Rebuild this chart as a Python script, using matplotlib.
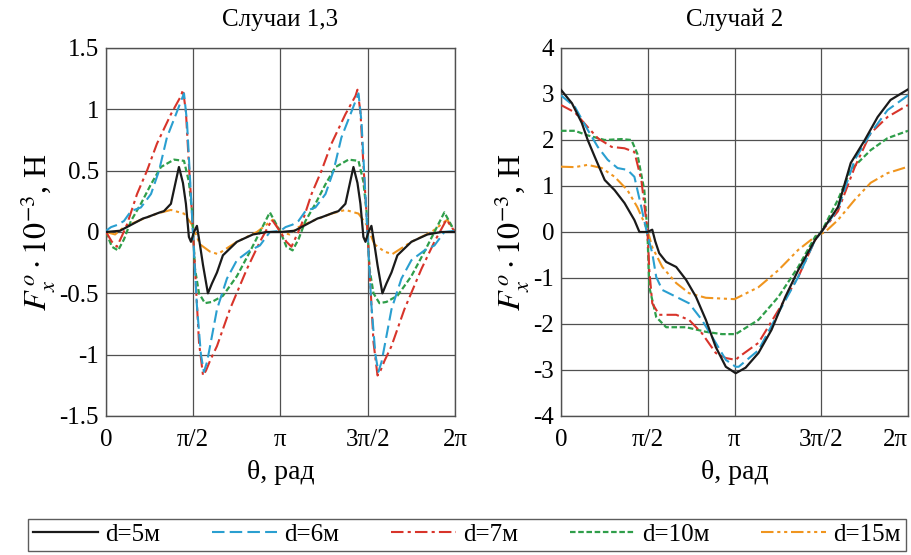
import numpy as np
import matplotlib
matplotlib.use("Agg")
import matplotlib.pyplot as plt

plt.rcParams['font.family'] = ['Liberation Serif', 'DejaVu Serif']
plt.rcParams['mathtext.fontset'] = 'stix'

# ---------------- data ----------------
labels = ["d=5м", "d=6м", "d=7м", "d=10м", "d=15м"]
colors = ["#1a1a1a", "#2a9fd0", "#d8342a", "#2f9e4a", "#f0951e"]
styles = ["-", (0, (6, 2.5)), (0, (6, 2, 1.5, 2)), (0, (2.5, 1.2)), (0, (6, 1.8, 1.5, 1.8, 1.5, 1.8))]
widths = [1.6, 1.5, 1.5, 1.6, 1.5]

# left panel (Случаи 1,3): one period 0..π, theta in units of π; repeats on π..2π
l_x5 = [0, 0.08, 0.212, 0.235, 0.309, 0.332, 0.372, 0.401, 0.418, 0.441, 0.458, 0.475, 0.487,
        0.504, 0.521, 0.538, 0.556, 0.584, 0.607, 0.636, 0.670, 0.750, 0.842, 0.922, 1.0]
l_y5 = [0.0, 0.01, 0.11, 0.12, 0.16, 0.17, 0.23, 0.42, 0.53, 0.40, 0.23, -0.04, -0.08,
        0.0, 0.05, -0.1, -0.27, -0.5, -0.42, -0.33, -0.19, -0.08, -0.02, 0.0, 0.0]

l_x6 = [0, 0.029, 0.069, 0.103, 0.143, 0.200, 0.258, 0.304, 0.349, 0.401, 0.447, 0.464, 0.481,
        0.498, 0.521, 0.544, 0.561, 0.579, 0.607, 0.636, 0.693, 0.750, 0.825, 0.882, 0.939, 1.0]
l_y6 = [0.01, 0.04, 0.06, 0.09, 0.17, 0.20, 0.31, 0.50, 0.77, 0.96, 1.13, 0.9, 0.45,
        0.0, -0.6, -1.0, -1.14, -1.06, -0.85, -0.63, -0.38, -0.23, -0.15, -0.11, 0.0, 0.01]

l_x7 = [0, 0.034, 0.063, 0.092, 0.120, 0.178, 0.235, 0.292, 0.372, 0.430, 0.441, 0.458, 0.475,
        0.493, 0.510, 0.533, 0.556, 0.573, 0.596, 0.636, 0.710, 0.808, 0.882, 0.951, 1.0]
l_y7 = [0.0, -0.08, -0.12, -0.03, 0.06, 0.31, 0.50, 0.72, 0.96, 1.11, 1.16, 0.98, 0.55,
        0.15, -0.3, -0.9, -1.17, -1.13, -1.05, -0.93, -0.63, -0.3, -0.08, 0.1, 0.0]

l_x10 = [0, 0.034, 0.069, 0.103, 0.143, 0.200, 0.258, 0.315, 0.390, 0.447, 0.475, 0.493, 0.510,
         0.533, 0.567, 0.607, 0.670, 0.750, 0.825, 0.882, 0.939, 1.0]
l_y10 = [0.0, -0.12, -0.15, -0.06, 0.09, 0.23, 0.39, 0.53, 0.59, 0.58, 0.41, 0.17, -0.3,
         -0.5, -0.58, -0.57, -0.52, -0.36, -0.16, 0.0, 0.16, 0.0]

l_x15 = [0, 0.052, 0.103, 0.200, 0.292, 0.372, 0.447, 0.493, 0.538, 0.596, 0.641, 0.750, 0.865, 0.956, 1.0]
l_y15 = [0.0, -0.02, 0.04, 0.10, 0.15, 0.18, 0.15, 0.06, -0.1, -0.16, -0.18, -0.08, 0.0, 0.10, 0.0]

# right panel (Случай 2): theta in units of π, 0..2π
r_x5 = [0, 0.063, 0.120, 0.154, 0.195, 0.252, 0.309, 0.366, 0.423, 0.452, 0.498, 0.526, 0.543,
        0.566, 0.606, 0.664, 0.721, 0.778, 0.835, 0.892, 0.950, 1.007, 1.064, 1.138, 1.213,
        1.293, 1.367, 1.465, 1.5, 1.596, 1.670, 1.751, 1.825, 1.899, 2.0]
r_y5 = [3.09, 2.8, 2.37, 2.0, 1.63, 1.13, 0.91, 0.63, 0.26, 0.0, 0.0, 0.05, -0.2,
        -0.46, -0.65, -0.76, -1.04, -1.41, -1.91, -2.5, -2.93, -3.07, -2.95, -2.63, -2.13,
        -1.41, -0.83, -0.17, 0.0, 0.54, 1.5, 2.0, 2.5, 2.87, 3.1]

r_x6 = [0, 0.080, 0.154, 0.212, 0.269, 0.326, 0.383, 0.423, 0.463, 0.492, 0.526, 0.549, 0.584,
        0.664, 0.738, 0.812, 0.892, 0.950, 1.007, 1.024, 1.138, 1.253, 1.367, 1.465, 1.5,
        1.596, 1.693, 1.785, 1.882, 2.0]
r_y6 = [2.97, 2.72, 2.22, 1.85, 1.57, 1.39, 1.35, 1.2, 0.54, 0.04, -0.46, -0.98, -1.26,
        -1.41, -1.55, -1.91, -2.41, -2.78, -2.93, -2.93, -2.57, -1.76, -0.98, -0.17, 0.0,
        0.5, 1.57, 2.15, 2.65, 2.97]

r_x7 = [0, 0.080, 0.154, 0.212, 0.292, 0.366, 0.423, 0.463, 0.498, 0.509, 0.526, 0.566, 0.664,
        0.738, 0.812, 0.892, 0.950, 1.007, 1.024, 1.138, 1.253, 1.367, 1.465, 1.5, 1.596,
        1.693, 1.785, 1.882, 2.0]
r_y7 = [2.76, 2.6, 2.28, 2.04, 1.85, 1.82, 1.74, 1.13, 0.04, -0.83, -1.55, -1.8, -1.8,
        -1.91, -2.2, -2.63, -2.74, -2.78, -2.72, -2.41, -1.7, -0.98, -0.17, 0.0, 0.45,
        1.41, 2.15, 2.5, 2.76]

r_x10 = [0, 0.080, 0.154, 0.252, 0.349, 0.406, 0.440, 0.480, 0.498, 0.509, 0.549, 0.606, 0.721,
         0.835, 0.927, 1.007, 1.138, 1.253, 1.367, 1.465, 1.5, 1.596, 1.670, 1.785, 1.882, 2.0]
r_y10 = [2.2, 2.2, 2.1, 2.0, 2.02, 2.0, 1.7, 0.91, 0.0, -1.2, -1.85, -2.07, -2.07,
         -2.17, -2.22, -2.22, -1.91, -1.41, -0.76, -0.1, 0.0, 0.7, 1.35, 1.78, 2.04, 2.2]

r_x15 = [0, 0.080, 0.154, 0.235, 0.309, 0.383, 0.440, 0.480, 0.509, 0.526, 0.584, 0.664, 0.738,
         0.835, 1.0, 1.138, 1.253, 1.367, 1.465, 1.522, 1.596, 1.693, 1.785, 1.882, 2.0]
r_y15 = [1.42, 1.41, 1.46, 1.39, 1.2, 0.91, 0.54, 0.2, -0.1, -0.33, -0.76, -1.11, -1.33,
         -1.43, -1.46, -1.2, -0.83, -0.39, -0.1, 0.0, 0.26, 0.7, 1.07, 1.28, 1.42]

left_x = [l_x5, l_x6, l_x7, l_x10, l_x15]
left_y = [l_y5, l_y6, l_y7, l_y10, l_y15]
right_x = [r_x5, r_x6, r_x7, r_x10, r_x15]
right_y = [r_y5, r_y6, r_y7, r_y10, r_y15]

titles = ["Случаи 1,3", "Случай 2"]
xtick_labels = ["0", "π/2", "π", "3π/2", "2π"]
left_yticks = [-1.5, -1, -0.5, 0, 0.5, 1, 1.5]
left_yticklabels = ["-1.5", "-1", "-0.5", "0", "0.5", "1", "1.5"]
right_yticks = [-4, -3, -2, -1, 0, 1, 2, 3, 4]
right_yticklabels = ["-4", "-3", "-2", "-1", "0", "1", "2", "3", "4"]

# ---------------- figure ----------------
fig = plt.figure(figsize=(9.12, 5.55), dpi=100)
axL = fig.add_axes([106/912, 1 - 416/555, 349/912, 368/555])
axR = fig.add_axes([561/912, 1 - 416/555, 347/912, 368/555])

fs = 18
handles = []
for i in range(5):
    xl = np.concatenate([np.array(left_x[i]), np.array(left_x[i][1:]) + 1.0]) * np.pi
    yl = np.concatenate([np.array(left_y[i]), np.array(left_y[i][1:])])
    h, = axL.plot(xl, yl, color=colors[i], linestyle=styles[i], lw=widths[i], zorder=3 + (4 - i))
    handles.append(h)
    axR.plot(np.array(right_x[i]) * np.pi, right_y[i], color=colors[i], linestyle=styles[i],
             lw=widths[i], zorder=3 + (4 - i))

for ax, ttl, yt, ytl, ylim in [(axL, titles[0], left_yticks, left_yticklabels, (-1.5, 1.5)),
                               (axR, titles[1], right_yticks, right_yticklabels, (-4, 4))]:
    ax.set_xlim(0, 2 * np.pi)
    ax.set_ylim(*ylim)
    ax.set_xticks([0, np.pi / 2, np.pi, 3 * np.pi / 2, 2 * np.pi])
    ax.set_xticklabels(xtick_labels, fontsize=fs)
    ax.set_yticks(yt)
    ax.set_yticklabels(ytl, fontsize=fs)
    ax.tick_params(axis='y', length=0, pad=5)
    ax.tick_params(axis='x', length=0, pad=9)
    ax.grid(True, color="#505050", lw=0.9)
    ax.set_axisbelow(True)
    for s in ax.spines.values():
        s.set_color("#505050")
        s.set_linewidth(1.0)
    ax.set_title(ttl, fontsize=fs, pad=16)
    ax.set_xlabel("θ, рад", fontsize=20, labelpad=7)
    ax.set_ylabel(r"$F_{x}^{\,o}\cdot 10^{-3}$, Н", fontsize=23, labelpad=2)

axR.get_xticklabels()[-1].set_horizontalalignment('right')

fig.legend(handles, labels, loc="lower left", ncol=5, mode="expand",
           bbox_to_anchor=(28/912, 1 - 551/555, (906 - 28)/912, 37/555),
           fontsize=fs, frameon=True, fancybox=False, edgecolor="#333333",
           handlelength=2.6, handletextpad=0.3, columnspacing=1.0, borderaxespad=0,
           borderpad=0.2)

fig.savefig("out.png", dpi=100)
